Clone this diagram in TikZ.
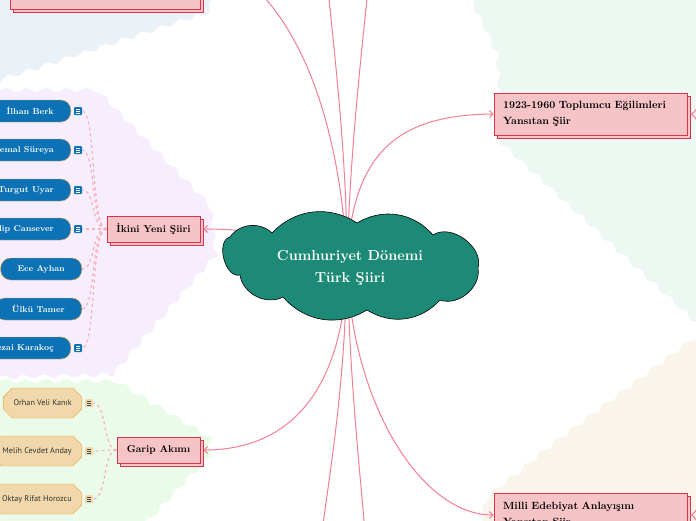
\documentclass[tikz,border=0pt]{standalone}
\usepackage{fontspec}
\newfontfamily\narrowfont{PT Sans}
\usetikzlibrary{arrows.meta,shapes.misc,shadows,decorations.pathmorphing}
\definecolor{zoneblue}{HTML}{EAF2F8}
\definecolor{zonepurple}{HTML}{F6EEFC}
\definecolor{zonegreen}{HTML}{EBFBEA}
\definecolor{zonemint}{HTML}{EEF8F3}
\definecolor{zonecream}{HTML}{FAF5EA}
\definecolor{boxfill}{HTML}{F6C3C6}
\definecolor{boxline}{HTML}{D9334E}
\definecolor{linkpink}{HTML}{F27F92}
\definecolor{dashpink}{HTML}{F6B3BE}
\definecolor{cloudgreen}{HTML}{1D8A77}
\definecolor{pillblue}{HTML}{0B72B5}
\definecolor{pillline}{HTML}{F5A23C}
\definecolor{tanfill}{HTML}{F1D8AA}
\definecolor{tanline}{HTML}{EFA038}

\begin{document}
\begin{tikzpicture}[x=1pt, y=-1pt, >={Straight Barb[length=3.5pt,width=7pt]},
  zone/.style={decorate, decoration={snake, amplitude=2pt, segment length=20pt}},
  catbox/.style={rectangle, draw=boxline, fill=boxfill, line width=0.8pt,
    text=black, font=\bfseries,
    copy shadow={shadow xshift=3pt, shadow yshift=-3pt, fill=boxfill, draw=boxline, line width=0.8pt}},
  poetpill/.style={rectangle, rounded corners=10pt, draw=pillline, fill=pillblue,
    text=white, font=\bfseries\fontsize{8.5}{10}\selectfont, inner xsep=17pt, minimum height=22pt, anchor=east},
  poettag/.style={chamfered rectangle, chamfered rectangle xsep=6pt, draw=tanline, fill=tanfill,
    text=black!80, font=\narrowfont\fontsize{8.2}{10}\selectfont, inner xsep=4pt, minimum height=30pt, anchor=east},
  noteicon/.style={rectangle, rounded corners=1pt, fill=pillblue, minimum size=8pt, inner sep=0pt,
    path picture={\foreach \k in {-2,0,2}{\draw[white, line width=0.6pt]
      ([xshift=-2.2pt,yshift=\k pt]path picture bounding box.center) -- ++(4.4pt,0);}}},
  tanicon/.style={noteicon, fill=tanfill,
    path picture={\foreach \k in {-2,0,2}{\draw[black!70, line width=0.5pt]
      ([xshift=-2.2pt,yshift=\k pt]path picture bounding box.center) -- ++(4.4pt,0);}}},
  link/.style={draw=linkpink, line width=1pt},
  sublink/.style={draw=dashpink, line width=1.2pt, dashed},
  puff/.style={bend left=#1}
]
\useasboundingbox (0,0) rectangle (696,520);
\clip (0,0) rectangle (696,520);

% background zones
\fill[zoneblue, zone] (-20,-20) -- (222,-20) -- (205,15) -- (0,82) -- (-20,82) -- cycle;
\fill[zonepurple, zone] (-20,90) -- (92,90) -- (205,205) -- (210,250) -- (105,372) -- (-20,375) -- cycle;
\fill[zonegreen, zone] (-20,381) -- (108,381) -- (205,440) -- (205,462) -- (130,540) -- (-20,540) -- cycle;
\fill[zonemint, zone] (450,-20) -- (720,-20) -- (720,333) -- (696,330) -- (492,142) -- (488,60) -- cycle;
\fill[zonecream, zone] (720,336) -- (696,338) -- (560,440) -- (496,492) -- (484,540) -- (720,540) -- cycle;

% main branches
\node[catbox, minimum width=190pt, minimum height=40pt, anchor=south west] (topleft) at (10,10) {};
\node[catbox, minimum width=93pt, minimum height=26pt, inner sep=0pt] (ikinci) at (153.5,229) {İkini Yeni Şiiri};
\node[catbox, minimum width=83pt, minimum height=26pt, inner sep=0pt] (garip) at (158.5,450) {Garip Akımı};
\node[
  catbox,
  align=left,
  text width=175pt,
  inner xsep=9pt,
  minimum height=42pt,
  font=\bfseries\fontsize{10.5}{16}\selectfont
] (toplum) at (590.5,114) {1923-1960 Toplumcu Eğilimleri\\Yansıtan Şiir};
\node[
  catbox,
  align=left,
  text width=175pt,
  inner xsep=9pt,
  minimum height=44pt,
  font=\bfseries\fontsize{10.5}{16}\selectfont
] (milli) at (590.5,515) {Milli Edebiyat Anlayışını\\Yansıtan Şiir};

% Ikinci Yeni poets
\node[poetpill] (berk) at (71,111) {İlhan Berk};
\node[poetpill] (sureya) at (71,150) {Cemal Süreya};
\node[poetpill] (uyar) at (71,190) {Turgut Uyar};
\node[poetpill] (cansever) at (71,229) {Edip Cansever};
\node[poetpill] (ayhan) at (82,269) {Ece Ayhan};
\node[poetpill] (tamer) at (82,309) {Ülkü Tamer};
\node[poetpill] (karakoc) at (71,348) {Sezai Karakoç};
\node[noteicon] (berkNote) at (78,111) {};
\node[noteicon] (sureyaNote) at (78,150) {};
\node[noteicon] (uyarNote) at (78,190) {};
\node[noteicon] (canseverNote) at (78,229) {};
\node[noteicon] (karakocNote) at (78,348) {};

% Garip poets
\node[poettag] (veli) at (82,403) {Orhan Veli Kanık};
\node[poettag] (anday) at (82,451) {Melih Cevdet Anday};
\node[poettag] (horozcu) at (82,499) {Oktay Rifat Horozcu};
\node[tanicon] (veliNote) at (89,403) {};
\node[tanicon] (andayNote) at (89,451) {};
\node[tanicon] (horozcuNote) at (89,499) {};

\foreach \n in {berkNote,sureyaNote,uyarNote,canseverNote,ayhan,tamer,karakocNote}
  \draw[sublink] (ikinci.west) .. controls +(-16,0) and +(14,0) .. (\n.east);
\foreach \n in {veliNote,andayNote,horozcuNote}
  \draw[sublink] (garip.west) .. controls +(-14,0) and +(14,0) .. (\n.east);

% hub and loose ends
\coordinate (hub) at (347,262);
\coordinate (offA) at (255,-12);
\coordinate (offB) at (328,-12);
\coordinate (offC) at (368,-12);
\coordinate (offD) at (322,532);
\coordinate (offE) at (365,532);
\coordinate (rightA) at (702,98);
\coordinate (rightB) at (702,132);
\coordinate (rightC) at (702,498);
\coordinate (rightD) at (702,532);

\draw[link, ->] (hub) .. controls (300,236) and (250,229) .. ([xshift=3pt]ikinci.east);
\draw[link, ->] (hub) .. controls (345,390) and (290,450) .. ([xshift=3pt]garip.east);
\draw[link, ->] (hub) .. controls (352,150) and (400,115) .. (toplum.west);
\draw[link, ->] (hub) .. controls (350,400) and (420,515) .. (milli.west);
\draw[link] (hub) .. controls (340,120) and (300,30) .. (offA);
\draw[link] (hub) .. controls (347,160) and (335,60) .. (offB);
\draw[link] (hub) .. controls (350,150) and (362,50) .. (offC);
\draw[link] (hub) .. controls (345,380) and (333,450) .. (offD);
\draw[link] (hub) .. controls (350,380) and (358,450) .. (offE);
\draw[link] ([xshift=3pt]toplum.east) .. controls +(5,0) and +(-2,4) .. (rightA);
\draw[link] ([xshift=3pt]toplum.east) .. controls +(5,0) and +(-2,-4) .. (rightB);
\draw[link] ([xshift=3pt]milli.east) .. controls +(5,0) and +(-2,4) .. (rightC);
\draw[link] ([xshift=3pt]milli.east) .. controls +(5,0) and +(-2,-4) .. (rightD);

% central topic
\draw[black, line width=0.6pt, fill=cloudgreen]
  (230,237) to[puff=50] (272,233) to[puff=40] (357,223) to[puff=40] (433,235)
  to[puff=70] (478,268) to[puff=60] (440,300) to[puff=40] (367,310)
  to[puff=40] (283,297) to[puff=55] (240,275) to[puff=90] (230,237) -- cycle;
\node[
  inner sep=0pt,
  align=center,
  text=white,
  font=\bfseries\fontsize{14.5}{22}\selectfont
] (topic) at (350,268) {Cumhuriyet Dönemi\\Türk Şiiri};
\end{tikzpicture}
\end{document}
